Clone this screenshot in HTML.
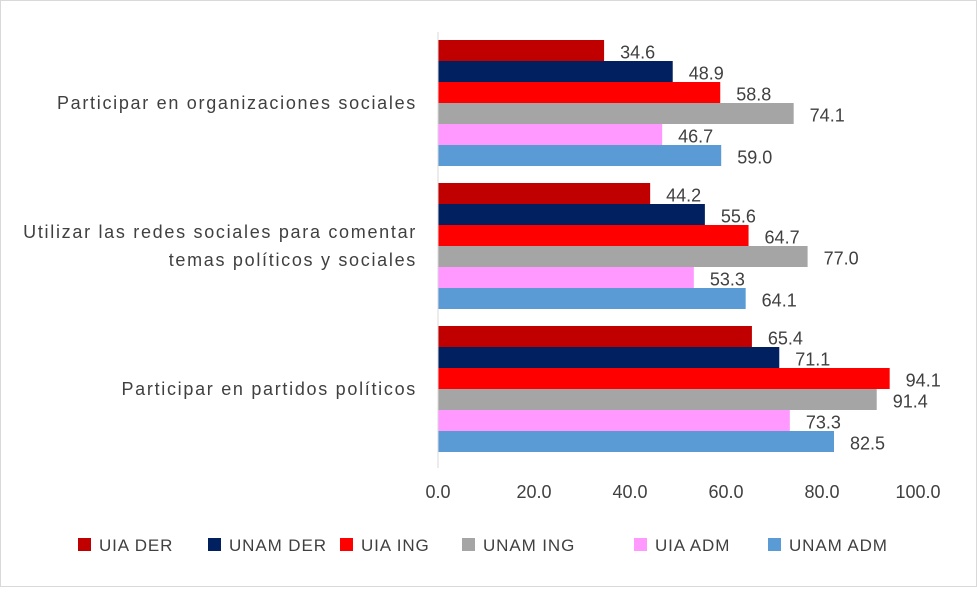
<!DOCTYPE html>
<html><head><meta charset="utf-8">
<style>
html,body{margin:0;padding:0;background:#fff;}
svg text{font-family:"Liberation Sans",sans-serif;fill:#404040;}
</style></head>
<body>
<svg id="chart" width="977" height="587" xmlns="http://www.w3.org/2000/svg">
<rect x="0.5" y="0.5" width="976" height="586" fill="#fff" stroke="#d9d9d9"/>
</svg>
<script>
const categories = [["Participar en organizaciones sociales"],["Utilizar las redes sociales para comentar","temas políticos y sociales"],["Participar en partidos políticos"]];
const seriesNames = ["UIA DER","UNAM DER","UIA ING","UNAM ING","UIA ADM","UNAM ADM"];
const seriesColors = ["#C00000","#002060","#FF0000","#A5A5A5","#FF99FF","#5B9BD5"];
const values = [
  [34.6,48.9,58.8,74.1,46.7,59.0],
  [44.2,55.6,64.7,77.0,53.3,64.1],
  [65.4,71.1,94.1,91.4,73.3,82.5]
];
const ticks = [0,20,40,60,80,100];

const svg = document.getElementById('chart');
const NS = 'http://www.w3.org/2000/svg';
const x0 = 438, pxPerUnit = 4.8;
const xs = v => x0 + v * pxPerUnit;
const groupTop = i => 40 + i * 143;
const barH = 21;
function mk(tag, attrs){const e=document.createElementNS(NS,tag);for(const k in attrs)e.setAttribute(k,attrs[k]);svg.appendChild(e);return e;}

values.forEach((row,gi)=>{
  row.forEach((v,si)=>{
    const y = groupTop(gi) + si*barH;
    const r = mk('rect',{x:xs(0),y:y,width:xs(v)-xs(0),height:barH,fill:seriesColors[si]});
    
    
    const t = mk('text',{x:xs(v)+16,y:y+barH/2+8,'font-size':18});
    t.textContent = v.toFixed(1);
    
    
  });
  const lines = categories[gi];
  const cy = groupTop(gi) + 3*barH;
  lines.forEach((ln,li)=>{
    const t = mk('text',{x:417,y:cy + 6 + (li-(lines.length-1)/2)*28,'font-size':18,'text-anchor':'end','letter-spacing':'1.7'});
    t.textContent = ln;
    
    
  });
});

const axis = mk('line',{x1:x0,y1:32,x2:x0,y2:468,stroke:'#d9d9d9','stroke-width':1});



ticks.forEach(v=>{
  const t = mk('text',{x:xs(v),y:498,'font-size':18,'text-anchor':'middle'});
  t.textContent = v.toFixed(1);
  
  
});

const legendX = [78,208,340,462,634,768];
seriesNames.forEach((n,i)=>{
  const r = mk('rect',{x:legendX[i],y:538,width:13,height:13,fill:seriesColors[i]});
  
  
  const t = mk('text',{x:legendX[i]+21,y:551,'font-size':17,'letter-spacing':'0.9'});
  t.textContent = n;
  
  
});
</script>
</body></html>
